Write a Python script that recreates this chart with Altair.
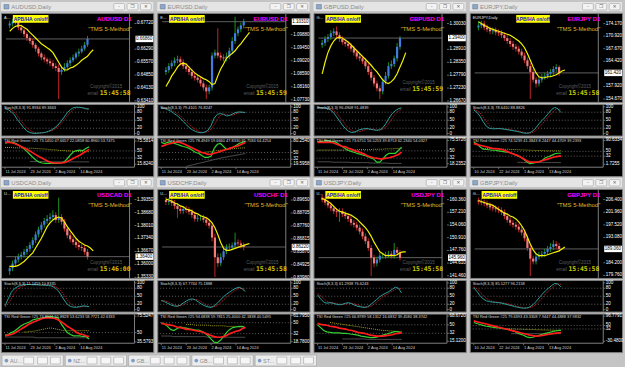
import altair as alt
import pandas as pd

# ---------------- data ----------------
PAIRS = ["AUDUSD", "EURUSD", "GBPUSD", "EURJPY", "USDCAD", "USDCHF", "USDJPY", "GBPJPY"]
CLOCKS = ["15:45:58", "15:45:59", "15:45:59", "15:45:58", "15:46:00", "15:45:58", "15:45:58", "15:45:58"]
DATES_A = ["11 Jul 2024", "23 Jul 2024", "2 Aug 2024", "14 Aug 2024"]
DATES_B = ["10 Jul 2024", "22 Jul 2024", "1 Aug 2024", "13 Aug 2024"]
DATE_IDX = [0, 8, 16, 24]
TAB_LABELS = ["AU...", "NZ...", "GB...", "GB...", "ST..."]

AUDUSD_OPEN0 = 0.6761
AUDUSD_CLOSE = [0.6772,0.6783,0.6794,0.6750,0.6734,0.6713,0.6691,0.6675,0.6653,0.6632,0.6605,0.6583,0.6572,0.6561,0.6551,0.6534,0.6524,0.6502,0.6513,0.6529,0.6551,0.6567,0.6583,0.6605,0.6615,0.6632,0.6653,0.6686]
AUDUSD_HIGH = [0.6788,0.6799,0.6810,0.6804,0.6767,0.6745,0.6723,0.6702,0.6686,0.6664,0.6642,0.6615,0.6599,0.6583,0.6578,0.6567,0.6551,0.6545,0.6534,0.6551,0.6567,0.6583,0.6599,0.6615,0.6632,0.6648,0.6669,0.6702]
AUDUSD_LOW = [0.6745,0.6756,0.6767,0.6734,0.6718,0.6696,0.6675,0.6659,0.6637,0.6615,0.6588,0.6567,0.6556,0.6545,0.6534,0.6518,0.6507,0.6351,0.6486,0.6502,0.6518,0.6534,0.6556,0.6572,0.6588,0.6605,0.6621,0.6642]
AUDUSD_MA = [0.6729,0.6745,0.6756,0.6761,0.6761,0.6750,0.6740,0.6723,0.6707,0.6691,0.6675,0.6659,0.6648,0.6637,0.6626,0.6610,0.6583,0.6556,0.6529,0.6513,0.6513,0.6524,0.6529,0.6540,0.6551,0.6567,0.6578,0.6589,0.6610,0.6626]
AUDUSD_RANGE = [0.6335, 0.6831]
AUDUSD_TICKS = [0.6341,0.6413,0.6485,0.6557,0.6629,0.6772]

EURUSD_OPEN0 = 1.0865
EURUSD_CLOSE = [1.0871,1.0884,1.0894,1.0903,1.0907,1.0897,1.0884,1.0875,1.0865,1.0852,1.0846,1.0839,1.0827,1.0814,1.0801,1.0814,1.0919,1.0929,1.0919,1.0913,1.0910,1.0916,1.0935,1.0967,1.0993,1.1006,1.1019,1.1031]
EURUSD_HIGH = [1.0881,1.0894,1.0903,1.0913,1.0919,1.0916,1.0907,1.0894,1.0884,1.0875,1.0862,1.0855,1.0849,1.0836,1.0823,1.0823,1.0929,1.0939,1.1009,1.0929,1.0923,1.0929,1.0945,1.0980,1.1047,1.1015,1.1028,1.1041]
EURUSD_LOW = [1.0855,1.0862,1.0875,1.0884,1.0894,1.0887,1.0875,1.0865,1.0855,1.0843,1.0836,1.0830,1.0817,1.0804,1.0775,1.0791,1.0804,1.0910,1.0910,1.0903,1.0900,1.0900,1.0907,1.0926,1.0958,1.0983,1.0996,1.1009]
EURUSD_MA = [1.0817,1.0833,1.0852,1.0865,1.0881,1.0891,1.0894,1.0891,1.0881,1.0871,1.0862,1.0855,1.0849,1.0843,1.0839,1.0833,1.0823,1.0827,1.0852,1.0875,1.0891,1.0910,1.0919,1.0926,1.0935,1.0948,1.0958,1.0971,1.0983,1.0996]
EURUSD_RANGE = [1.0766, 1.1060]
EURUSD_TICKS = [1.0773,1.0816,1.0859,1.0902,1.0945,1.0988]

GBPUSD_OPEN0 = 1.2911
GBPUSD_CLOSE = [1.2919,1.2936,1.2944,1.2961,1.2969,1.2953,1.2936,1.2923,1.2915,1.2906,1.2894,1.2877,1.2860,1.2852,1.2839,1.2818,1.2793,1.2768,1.2743,1.2722,1.2709,1.2751,1.2776,1.2818,1.2827,1.2852,1.2902,1.2940]
GBPUSD_HIGH = [1.2932,1.2948,1.2957,1.2974,1.2982,1.2990,1.2965,1.2948,1.2936,1.2927,1.2919,1.2906,1.2890,1.2873,1.2864,1.2852,1.2831,1.2806,1.2780,1.2755,1.2734,1.2764,1.2793,1.2835,1.2843,1.2864,1.2919,1.2948]
GBPUSD_LOW = [1.2898,1.2906,1.2923,1.2932,1.2948,1.2940,1.2923,1.2911,1.2902,1.2894,1.2881,1.2864,1.2848,1.2839,1.2827,1.2806,1.2780,1.2755,1.2730,1.2709,1.2675,1.2696,1.2738,1.2764,1.2806,1.2814,1.2839,1.2890]
GBPUSD_MA = [1.2785,1.2835,1.2877,1.2906,1.2927,1.2940,1.2944,1.2940,1.2932,1.2923,1.2911,1.2898,1.2885,1.2873,1.2860,1.2848,1.2835,1.2822,1.2806,1.2793,1.2776,1.2759,1.2747,1.2743,1.2751,1.2764,1.2785,1.2814,1.2843,1.2877]
GBPUSD_RANGE = [1.2663, 1.3049]
GBPUSD_TICKS = [1.2667,1.2723,1.2779,1.2835,1.2891,1.3003]

EURJPY_OPEN0 = 173.17
EURJPY_CLOSE = [173.67,174.17,173.17,172.67,172.17,172.42,171.92,171.67,171.17,170.42,169.67,168.92,168.17,167.67,166.92,165.92,164.67,163.17,161.67,159.67,158.67,159.67,160.42,160.67,161.17,161.67,162.42,162.92,161.42]
EURJPY_HIGH = [174.67,174.92,174.92,173.92,173.42,173.17,173.17,172.67,172.42,171.92,171.17,170.42,169.67,168.92,168.42,167.67,166.67,165.42,163.92,162.42,160.42,160.42,161.17,161.42,161.92,162.42,163.17,163.67,163.42]
EURJPY_LOW = [172.42,172.92,172.42,171.92,171.42,171.42,171.17,170.92,170.42,169.67,168.92,168.17,167.42,166.92,166.17,165.17,163.92,162.42,154.67,158.92,157.67,157.92,158.92,159.67,159.92,160.42,160.92,161.67,160.67]
EURJPY_MA = [174.67,174.17,173.67,173.42,172.92,172.67,172.42,172.17,171.92,171.67,171.42,171.17,170.67,170.17,169.67,168.92,167.92,166.42,164.67,162.92,161.42,160.42,160.17,160.17,160.42,160.42,160.67,160.92,161.42,161.92,162.17]
EURJPY_RANGE = [153.92, 176.92]
EURJPY_TICKS = [154.67,157.92,164.42,167.67,170.92,174.17]

USDCAD_OPEN0 = 1.3565
USDCAD_CLOSE = [1.3580,1.3605,1.3625,1.3640,1.3650,1.3665,1.3680,1.3700,1.3725,1.3755,1.3780,1.3805,1.3825,1.3835,1.3845,1.3855,1.3830,1.3845,1.3820,1.3785,1.3750,1.3730,1.3715,1.3700,1.3690,1.3685,1.3665,1.3640]
USDCAD_HIGH = [1.3595,1.3620,1.3640,1.3655,1.3665,1.3680,1.3695,1.3715,1.3740,1.3770,1.3795,1.3820,1.3840,1.3855,1.3865,1.3880,1.3870,1.3945,1.3860,1.3835,1.3800,1.3765,1.3745,1.3730,1.3715,1.3705,1.3700,1.3680]
USDCAD_LOW = [1.3545,1.3565,1.3590,1.3610,1.3625,1.3635,1.3650,1.3665,1.3685,1.3710,1.3740,1.3765,1.3790,1.3810,1.3820,1.3830,1.3815,1.3815,1.3805,1.3770,1.3735,1.3715,1.3700,1.3685,1.3675,1.3670,1.3650,1.3625]
USDCAD_MA = [1.3590,1.3590,1.3590,1.3595,1.3605,1.3615,1.3630,1.3645,1.3660,1.3685,1.3710,1.3735,1.3765,1.3795,1.3815,1.3830,1.3840,1.3845,1.3840,1.3820,1.3795,1.3775,1.3755,1.3735,1.3720,1.3710,1.3700,1.3695,1.3685,1.3670]
USDCAD_RANGE = [1.3530, 1.3990]
USDCAD_TICKS = [1.3533,1.3600,1.3667,1.3734,1.3801,1.3868,1.3935]

USDCHF_OPEN0 = 0.8965
USDCHF_CLOSE = [0.8951,0.8958,0.8943,0.8922,0.8900,0.8886,0.8900,0.8893,0.8879,0.8857,0.8828,0.8835,0.8835,0.8821,0.8799,0.8778,0.8691,0.8547,0.8504,0.8547,0.8591,0.8619,0.8619,0.8634,0.8655,0.8648,0.8634,0.8622]
USDCHF_HIGH = [0.8987,0.8979,0.8979,0.8965,0.8943,0.8922,0.8922,0.8922,0.8915,0.8900,0.8879,0.8857,0.8857,0.8857,0.8843,0.8821,0.8799,0.8720,0.8576,0.8576,0.8612,0.8641,0.8648,0.8655,0.8727,0.8677,0.8670,0.8655]
USDCHF_LOW = [0.8929,0.8929,0.8922,0.8900,0.8835,0.8864,0.8864,0.8871,0.8857,0.8835,0.8807,0.8807,0.8814,0.8799,0.8778,0.8756,0.8663,0.8403,0.8475,0.8483,0.8526,0.8569,0.8598,0.8598,0.8612,0.8627,0.8612,0.8598]
USDCHF_MA = [0.8972,0.8965,0.8958,0.8943,0.8936,0.8922,0.8915,0.8900,0.8893,0.8886,0.8871,0.8864,0.8850,0.8843,0.8835,0.8821,0.8799,0.8763,0.8713,0.8655,0.8612,0.8598,0.8598,0.8605,0.8612,0.8619,0.8627,0.8634,0.8641,0.8648]
USDCHF_RANGE = [0.8396, 0.9046]
USDCHF_TICKS = [0.83980,0.84925,0.85870,0.86815,0.87760,0.88705,0.89650]

USDJPY_OPEN0 = 160.84
USDJPY_CLOSE = [160.36,159.64,158.92,158.20,157.48,157.24,157.48,156.76,156.28,155.56,154.60,154.12,153.40,152.44,151.24,150.04,148.36,145.96,144.52,145.48,146.44,146.44,146.68,146.92,146.44,147.88,147.16,145.96]
USDJPY_HIGH = [161.56,161.08,160.36,159.64,158.92,158.20,158.20,158.20,157.48,157.00,156.28,155.32,154.84,154.12,153.16,151.96,150.76,149.08,146.68,146.20,147.16,147.16,147.40,147.64,147.64,149.56,148.60,147.88]
USDJPY_LOW = [159.64,158.92,158.20,157.48,156.76,156.04,154.84,156.04,155.56,154.84,153.88,153.40,152.68,151.72,150.52,149.32,147.64,141.40,143.56,143.80,144.76,145.72,145.72,145.96,145.72,145.72,146.44,145.24]
USDJPY_MA = [160.60,160.36,159.88,159.40,158.68,157.96,157.48,157.24,157.00,156.76,156.52,156.04,155.56,154.84,154.12,153.40,152.44,151.24,149.80,148.60,147.40,146.92,146.44,146.44,146.44,146.44,146.68,147.16,147.40,147.40]
USDJPY_RANGE = [140.92, 163.00]
USDJPY_TICKS = [141.46,144.61,147.76,150.91,154.06,157.21,160.36]

GBPJPY_OPEN0 = 206.06
GBPJPY_CLOSE = [205.72,205.38,205.04,204.36,203.68,203.34,203.00,202.66,201.98,200.62,199.26,198.24,197.56,196.88,195.86,194.84,192.80,189.40,185.66,184.64,186.34,187.02,187.36,188.04,189.06,189.74,190.76,190.08,189.06]
GBPJPY_HIGH = [207.08,206.74,206.40,206.06,205.38,204.70,204.36,204.02,203.68,203.00,201.64,200.28,199.26,198.58,197.90,196.88,195.86,193.82,190.42,186.68,187.36,188.04,188.38,189.06,190.08,191.10,192.12,191.78,191.10]
GBPJPY_LOW = [204.70,204.36,204.02,203.34,202.66,202.32,201.98,201.64,200.96,199.60,198.24,197.22,196.54,195.86,194.84,193.82,191.78,188.38,179.54,183.62,183.62,185.32,186.00,186.34,187.02,188.04,188.72,189.06,188.04]
GBPJPY_MA = [206.06,205.72,205.38,205.04,204.70,204.36,203.68,203.00,202.32,201.64,201.30,200.62,200.28,199.60,198.58,197.22,195.52,193.14,190.76,188.72,187.36,186.68,186.68,186.68,187.02,187.36,187.70,188.04,188.38,189.06,189.74]
GBPJPY_RANGE = [178.86, 210.14]
GBPJPY_TICKS = [179.76,184.20,193.08,197.52,201.96,206.40]

# Stochastic (main, signal)
ST_LABELS = ["Stoch(8,3,3) 91.8934 89.3663", "Stoch(8,3,3) 79.4101 76.8247", "Stoch(8,3,3) 96.4908 91.4839",
             "Stoch(8,3,3) 78.6410 88.8826", "Stoch(8,3,3) 11.1459 10.8335", "Stoch(8,3,3) 67.7744 75.1888",
             "Stoch(8,3,3) 61.2938 76.6243", "Stoch(8,3,3) 85.1277 96.2158"]
AUDUSD_ST = [93,90,82,70,52,37,22,10,4,1,1,2,3,5,9,14,22,32,46,62,78,90,97,99,98,96,93,92]
AUDUSD_SIG = [95,93,89,80,66,50,35,22,12,6,3,2,3,4,7,11,17,26,37,51,66,80,90,96,98,97,95,89]
EURUSD_ST = [96,94,90,84,76,68,58,46,34,22,14,8,4,3,6,12,30,58,72,75,72,66,68,74,79,81,80,79]
EURUSD_SIG = [95,95,93,89,83,76,67,57,46,34,23,15,9,5,4,7,16,33,53,68,73,71,69,69,74,78,80,77]
GBPUSD_ST = [98,97,96,94,90,80,65,48,32,18,8,4,6,12,16,18,19,16,14,12,14,22,38,58,75,86,93,96]
GBPUSD_SIG = [97,97,97,96,94,88,78,64,48,33,20,11,6,6,9,13,16,17,16,14,13,16,25,39,57,73,85,91]
EURJPY_ST = [88,80,65,45,28,20,18,18,19,18,16,14,12,10,8,5,2,1,3,10,22,37,50,62,76,90,98,93,79]
EURJPY_SIG = [90,86,78,63,46,31,22,19,18,18,17,16,14,12,10,8,5,3,2,5,12,23,36,50,63,76,88,94,89]
USDCAD_ST = [14,40,65,78,86,91,93,94,94,93,93,92,92,91,90,88,82,72,55,36,20,12,9,9,11,14,13,11]
USDCAD_SIG = [10,22,40,61,76,85,90,93,94,94,94,93,92,92,91,90,87,81,70,54,37,23,14,10,10,11,12,11]
USDCHF_ST = [35,30,24,18,14,12,16,24,32,38,40,36,28,20,14,10,8,14,24,36,48,58,66,74,80,84,78,68]
USDCHF_SIG = [32,33,30,24,19,15,14,17,24,31,37,38,35,28,21,15,11,11,15,25,36,47,57,66,73,79,80,75]
USDJPY_ST = [55,40,28,24,26,24,20,18,20,24,26,22,16,12,10,8,10,18,28,38,48,56,62,68,76,84,80,62]
USDJPY_SIG = [60,52,41,31,26,25,23,21,19,21,23,24,21,17,13,10,9,12,19,28,38,48,55,62,69,76,80,77]
GBPJPY_ST = [82,68,52,40,33,30,28,27,26,24,21,18,15,12,9,7,5,6,10,18,30,44,58,70,80,90,98,96,85]
GBPJPY_SIG = [85,78,67,53,42,35,31,28,27,26,24,21,18,15,12,9,7,6,7,11,19,31,44,58,70,80,90,96,95]
STOCH_LEVELS = [80, 50, 20]
STOCH_TICKS = [0, 20, 50, 80, 100]

# TSI
TSI_LABELS = ["TSI Red Green #25 73.1450 47.6657 22.0858 60.8960 53.7475",
              "TSI Red Green #25 78.4949 59.6660 47.8330 65.7584 64.4254",
              "TSI Red Green #25 73.6751 56.5253 39.8753 62.2340 54.0327",
              "TSI Red Green #25 74.5239 41.3843 8.2447 44.4709 39.2393",
              "TSI Red Green #25 73.8921 55.8828 53.6233 58.7721 42.6333",
              "TSI Red Green #25 94.6838 59.7815 25.4000 42.1838 40.5495",
              "TSI Red Green #25 66.8789 58.1312 16.6832 39.4580 38.3742",
              "TSI Red Green #25 79.6393 43.3308 7.9447 44.4888 37.9832"]
TSI_LEVELS = [50, 32]
AUDUSD_TSI_G = [70,72,73,71,67,62,56,49,41,33,26,21,19,18,18,18,18,18,19,22,30,40,48,51,52,51,56,61]
AUDUSD_TSI_R = [72,72,71,69,66,62,58,54,50,45,40,35,31,27,23,20,19,19,19,20,23,27,31,35,39,44,49,54]
AUDUSD_TSI_Y = [59,59,59,58,58,58,58,57,57,57,56,56,55,55,54,53,53,52,51,51,50,50,49,49,48,48,48,48]
AUDUSD_TSI_K = [23,23,23,23,23,23,22,22,22,22,22,22,22,22,22,22,22,22,22,22]
AUDUSD_TSI_RANGE = [8.27, 84.5]
AUDUSD_TSI_TICKS = [15.824, 32, 50, 75.5814]
EURUSD_TSI_G = [77,74,77,78,75,72,69,66,64,61,56,50,48,42,37,37,40,61,72,74,66,58,61,64,69,74,77,79]
EURUSD_TSI_R = [66,69,72,74,77,78,77,74,70,66,62,58,54,50,48,45,45,48,50,53,56,58,61,64,66,69,73,77]
EURUSD_TSI_Y = [49,50,51,52,53,54,55,56,57,58,59,60,61,62,62,63]
EURUSD_TSI_K = [13,15,17,19,21,23,25,27,29,31,33,35,37,38,40,41,43,44,46,47]
EURUSD_TSI_RANGE = [10.82, 90.02]
EURUSD_TSI_TICKS = [19.5958, 32, 50, 80.254]
GBPUSD_TSI_G = [72,73,74,76,74,73,71,66,60,55,51,48,46,43,41,39,36,33,30,22,22,30,39,44,44,44,51,59]
GBPUSD_TSI_R = [71,71,71,71,71,70,67,64,61,60,56,54,50,48,45,42,38,35,33,32,30,30,32,33,35,38,41,47]
GBPUSD_TSI_Y = [52,52,52,52,52,52,52,52,52,52,52,52,52,53,53,53,53,53,54,54,54,54,55,55,55,56,56,56]
GBPUSD_TSI_K = [23,23,23,23,23,22,22,22,22,22,22,21,21,21,21,21,21,20,20,20,20,20,20,19,19,19,19,19]
GBPUSD_TSI_RANGE = [9.69, 82.9]
GBPUSD_TSI_TICKS = [18.2352, 32, 50, 75.5726]
EURJPY_TSI_G = [85,78,67,58,57,56,54,54,52,50,48,47,44,39,33,29,20,11,4,6,9,11,17,26,30,35,41,43,43]
EURJPY_TSI_R = [79,76,73,70,67,64,61,60,59,57,53,48,43,39,35,29,22,15,10,10,10,11,15,19,22,26,29,31,33]
EURJPY_TSI_Y = [61,61,60,60,60,59,59,58,58,57,57,56,56,55,55,54,54,53,53,53,52,52,52,52,52,52]
EURJPY_TSI_K = [9,9,8,8,8,8,8,8,8,8,8,8,8,8,8]
EURJPY_TSI_RANGE = [-9.27, 101.7]
EURJPY_TSI_TICKS = [1.7255, 32, 50, 90.6334]
USDCAD_TSI_G = [46,47,50,52,56,60,63,65,67,70,71,72,73,74,75,75,74,73,64,57,50,47,45,45,45,44,44,40]
USDCAD_TSI_R = [45,46,47,49,52,55,58,61,64,66,68,70,72,73,73,73,72,70,67,64,60,57,54,50,48,47,45,44]
USDCAD_TSI_Y = [51,51,52,52,53,54,55,56,57,57,56,55,54,53,53,53,53,53,53,53,53,53]
USDCAD_TSI_K = [43,43,43,43,43,43,43,43,43,43,42,42,42,42,42,42,42,42,42,42,42,42,42,42,42,42,42,41]
USDCAD_TSI_RANGE = [33.48, 79.68]
USDCAD_TSI_TICKS = [35.5793, 50, 75.5247]
USDCHF_TSI_G = [50,48,44,39,37,40,43,42,41,40,39,38,38,36,33,29,23,18,17,21,27,34,39,42,43,44,44,42]
USDCHF_TSI_R = [49,48,47,46,45,43,42,41,39,39,38,37,36,35,33,31,29,27,26,26,27,29,32,34,36,37,40,42]
USDCHF_TSI_Y = [47,47,47,46,46,46,46,46,45,45,45,45,45,44,44,44,44,43,43,43]
USDCHF_TSI_K = [28,28,28,28,27,27,27,27,27,27,27,27,27,27,27,26,26,26,26,26,26,26,26,26,26,26,26,26]
USDCHF_TSI_RANGE = [16.13, 65.2]
USDCHF_TSI_TICKS = [18.78, 32, 50, 61.795]
USDJPY_TSI_G = [50,44,38,35,34,33,33,33,32,32,31,30,29,28,26,25,24,23,23,24,26,28,30,32,34,36,35,33]
USDJPY_TSI_R = [53,51,50,49,47,46,45,43,42,41,39,38,36,34,33,32,30,28,27,26,26,26,27,28,29,31,32,33]
USDJPY_TSI_Y = [55,54,53,52,51,50,49,48,47,46,45,44,43,42,41,40,39,38,38,37,37,36,36,36]
USDJPY_TSI_K = [20,20,20,20,20,20,20,20,19,19,19,19,19,19,19,19,19,19,19,19]
USDJPY_TSI_RANGE = [10.92, 73.92]
USDJPY_TSI_TICKS = [15.12, 32, 50, 68.672]
GBPJPY_TSI_G = [65,60,55,50,46,44,41,39,37,35,32,30,26,20,12,6,0,-8,-12,-10,-5,0,5,10,13,17,21,24,26]
GBPJPY_TSI_R = [73,69,65,61,57,53,49,45,41,37,33,29,25,21,17,13,9,5,1,-2,-4,-3,-1,2,5,7,10,12,13]
GBPJPY_TSI_Y = [34,33,33,32,31,31,30,30,29,29,28,28,27,27,26,26,25,25,24]
GBPJPY_TSI_K = [8,8,8,8,8,8,8,8,8,8,8,8,8,8,8,8,8]
GBPJPY_TSI_RANGE = [-40.5, 110.4]
GBPJPY_TSI_TICKS = [-30.48, 32, 50, 96.7791]

# ---------------- layout / style ----------------
W, PX, XDOM = 154, 135, [-1.3, 41.6]
TB_H, MAIN_H, ST_H, TSI_H, TSI_PLOT = 9, 90, 32, 39, 30
FONT = "Liberation Sans"
BG = "#c4c4c4"
TITLE_FILL = "#e4e4e4"
EDGE = "#808080"
BULL_BODY, BEAR_BODY = "#3f7ee0", "#f27c7c"
BULL_WICK, BEAR_WICK = "#22a022", "#d42a2a"
BOX_X = {"EURJPY": (47, 81)}
ONE = pd.DataFrame({"a": [0]})
XS = alt.Scale(domain=XDOM, range=[0, PX], nice=False, zero=False)
BLACK_VIEW = alt.ViewBackground(fill="#000000", stroke=EDGE, strokeWidth=1)


def txt(s, x, y, **kw):
    return alt.Chart(ONE).mark_text(**kw).encode(x=alt.value(x), y=alt.value(y), text=alt.value(s))


def right_axis(values, labels, ys, h):
    """price-scale strip on the right: separator, ticks and labels placed through the y scale"""
    adf = pd.DataFrame({"v": values, "t": labels})
    sep = alt.Chart(pd.DataFrame({"x": [XDOM[1]]})).mark_rule(color=EDGE, strokeWidth=1).encode(
        x=alt.X("x:Q", scale=XS, axis=None), y=alt.value(0), y2=alt.value(h))
    tk = alt.Chart(adf).mark_rule(color=EDGE, strokeWidth=0.8).encode(
        x=alt.value(PX), x2=alt.value(PX + 2), y=alt.Y("v:Q", scale=ys, axis=None))
    lb = alt.Chart(adf).mark_text(align="left", baseline="middle", fontSize=4.6, color="#ffffff", font=FONT).encode(
        x=alt.value(PX + 2.5), y=alt.Y("v:Q", scale=ys, axis=None), text="t:N")
    return [sep, tk, lb]


def series_df(vals, n):
    s = n - len(vals)
    return pd.DataFrame({"i": list(range(s, s + len(vals))), "v": vals})


def title_bar(name):
    bx = [114, 127.5, 141]
    bdf = pd.DataFrame({"x0": bx, "x1": [b + 11 for b in bx], "xc": [b + 5.5 for b in bx], "g": ["\u2013", "\u2750", "\u2715"]})
    sx = alt.Scale(domain=[0, W], range=[0, W], nice=False, zero=False)
    btn = alt.Chart(bdf).mark_rect(fill="#f3f3f3", stroke="#a0a0a0", strokeWidth=0.6, cornerRadius=1).encode(
        x=alt.X("x0:Q", scale=sx, axis=None), x2="x1:Q", y=alt.value(1.5), y2=alt.value(8))
    gly = alt.Chart(bdf).mark_text(fontSize=4.5, color="#606060", font="DejaVu Sans").encode(
        x=alt.X("xc:Q", scale=sx, axis=None), y=alt.value(5), text="g:N")
    icon = alt.Chart(ONE).mark_rect(fill="#8fa8c8", stroke="#5a7090", strokeWidth=0.5).encode(
        x=alt.value(3), x2=alt.value(8), y=alt.value(2.5), y2=alt.value(7))
    ttl = txt(name + ",Daily", 10.5, 5, align="left", baseline="middle", fontSize=6, color="#8c8c8c", font=FONT)
    return alt.layer(btn, gly, icon, ttl).properties(
        width=W, height=TB_H, view=alt.ViewBackground(fill=TITLE_FILL, strokeWidth=0))


def main_pane(k, name, open0, close, high, low, ma, rng, ticks):
    n = len(close)
    opens = [open0] + close[:-1]
    df = pd.DataFrame({"i": list(range(n)), "o": opens, "c": close, "h": high, "l": low})
    up = [c >= o for o, c in zip(opens, close)]
    df["bc"] = [BULL_BODY if u else BEAR_BODY for u in up]
    df["wc"] = [BULL_WICK if u else BEAR_WICK for u in up]
    jpy = name.endswith("JPY")
    fmt = ".3f" if jpy else ".5f"
    ys = alt.Scale(domain=rng, nice=False, zero=False)
    x = alt.X("i:Q", scale=XS, axis=None)
    axis_layers = right_axis(ticks, [format(t, fmt) for t in ticks], ys, MAIN_H)
    wick = alt.Chart(df).mark_rule(strokeWidth=0.9).encode(
        x=x, y=alt.Y("l:Q", scale=ys, axis=None), y2="h:Q", color=alt.Color("wc:N", scale=None))
    body = alt.Chart(df).mark_bar(size=2.2).encode(
        x=x, y=alt.Y("o:Q", scale=ys, axis=None), y2="c:Q", color=alt.Color("bc:N", scale=None))
    mal = alt.Chart(series_df(ma, len(ma))).mark_line(color="#f2f200", strokeWidth=1.2).encode(
        x=x, y=alt.Y("v:Q", scale=ys, axis=None))
    last = close[-1]
    bid = pd.DataFrame({"x0": [XDOM[0]], "x1": [XDOM[1]], "y": [last], "t": [format(last, fmt)]})
    bidline = alt.Chart(bid).mark_rule(color="#8a8a8a", strokeWidth=0.7).encode(
        x=alt.X("x0:Q", scale=XS, axis=None), x2="x1:Q", y=alt.Y("y:Q", scale=ys, axis=None))
    box = alt.Chart(bid).mark_tick(orient="horizontal", size=W - PX - 1, thickness=6.5, color="#ffffff", opacity=1).encode(
        x=alt.value(PX + (W - PX) / 2 + 0.5), y=alt.Y("y:Q", scale=ys, axis=None))
    boxt = alt.Chart(bid).mark_text(align="left", baseline="middle", fontSize=4.6, color="#000000", font=FONT).encode(
        x=alt.value(PX + 1.5), y=alt.Y("y:Q", scale=ys, axis=None), text="t:N")
    bx0, bx1 = BOX_X.get(name, (12, 48))
    small = txt(name + ",Daily", 3, 5, align="left", baseline="middle", fontSize=4, color="#e0e0e0", font=FONT,
                limit=max(bx0 - 4, 6), ellipsis="")
    ybox = alt.Chart(ONE).mark_rect(color="#ffff00").encode(
        x=alt.value(bx0), x2=alt.value(bx1), y=alt.value(2), y2=alt.value(10))
    yboxt = txt("APB/HA on/off", (bx0 + bx1) / 2, 6.2, align="center", baseline="middle", fontSize=5,
                fontWeight="bold", color="#1010d0", font=FONT)
    d1 = txt(name + " D1", 132, 6.5, align="right", baseline="middle", fontSize=6, fontWeight="bold",
             color="#ff00ff", font=FONT)
    tms = txt('"TMS 5-Method"', 132, 16, align="right", baseline="middle", fontSize=6, color="#e2b52a", font=FONT)
    cy = 77 if name == "GBPUSD" else 81
    cp1 = txt("Copyright\u00a92015", 90, cy - 6, align="left", baseline="middle", fontSize=4.5, color="#5e5e5e", font=FONT)
    cp2 = txt("email", 87.5, cy + 1, align="left", baseline="middle", fontSize=4.5, color="#5e5e5e", font=FONT)
    clock = txt(CLOCKS[k], 131, cy, align="right", baseline="middle", fontSize=6.5, fontWeight="bold",
                color="#cfc400", font="DejaVu Sans Mono")
    return alt.layer(*axis_layers, bidline, wick, body, mal, box, boxt, small, ybox, yboxt, d1, tms, cp1, cp2,
                     clock).properties(width=W, height=MAIN_H, view=BLACK_VIEW)


def stoch_pane(k, main, sig):
    n = len(main)
    ys = alt.Scale(domain=[-7.4, 111.1], nice=False, zero=False)
    lv = pd.DataFrame({"x0": [XDOM[0]] * len(STOCH_LEVELS), "x1": [XDOM[1]] * len(STOCH_LEVELS), "y": STOCH_LEVELS})
    levels = alt.Chart(lv).mark_rule(color="#8a8a8a", strokeDash=[1, 2], strokeWidth=0.7).encode(
        x=alt.X("x0:Q", scale=XS, axis=None), x2="x1:Q", y=alt.Y("y:Q", scale=ys, axis=None))
    axis_layers = right_axis(STOCH_TICKS, [str(t) for t in STOCH_TICKS], ys, ST_H)
    x = alt.X("i:Q", scale=XS, axis=None)
    sl = alt.Chart(series_df(sig, n)).mark_line(color="#c42020", strokeWidth=0.9, strokeDash=[1.5, 1]).encode(
        x=x, y=alt.Y("v:Q", scale=ys, axis=None))
    ml = alt.Chart(series_df(main, n)).mark_line(color="#2a9e9e", strokeWidth=1).encode(
        x=x, y=alt.Y("v:Q", scale=ys, axis=None))
    lab = txt(ST_LABELS[k], 3, 4, align="left", baseline="middle", fontSize=4, color="#dcdcdc", font=FONT)
    return alt.layer(levels, *axis_layers, sl, ml, lab).properties(width=W, height=ST_H, view=BLACK_VIEW)


def tsi_pane(k, g, r, y, kk, rng, ticks, dates):
    n = len(g)
    ys = alt.Scale(domain=rng, range=[TSI_PLOT, 0], nice=False, zero=False)
    lvv = [v for v in TSI_LEVELS if rng[0] < v < rng[1]]
    lv = pd.DataFrame({"x0": [XDOM[0]] * len(lvv), "x1": [XDOM[1]] * len(lvv), "y": lvv})
    levels = alt.Chart(lv).mark_rule(color="#8a8a8a", strokeDash=[1, 2], strokeWidth=0.7).encode(
        x=alt.X("x0:Q", scale=XS, axis=None), x2="x1:Q", y=alt.Y("y:Q", scale=ys, axis=None))
    tlabels = [str(t) if t in TSI_LEVELS else format(t, ".4f") for t in ticks]
    axis_layers = right_axis(ticks, tlabels, ys, TSI_PLOT)
    # time axis (bottom of the indicator pane)
    base = alt.Chart(pd.DataFrame({"x0": [XDOM[0]], "x1": [XDOM[1]]})).mark_rule(color=EDGE, strokeWidth=1).encode(
        x=alt.X("x0:Q", scale=XS, axis=None), x2="x1:Q", y=alt.value(TSI_PLOT))
    ddf = pd.DataFrame({"i": DATE_IDX, "t": dates})
    dtk = alt.Chart(ddf).mark_rule(color=EDGE, strokeWidth=0.8).encode(
        x=alt.X("i:Q", scale=XS, axis=None), y=alt.value(TSI_PLOT), y2=alt.value(TSI_PLOT + 2))
    dlb = alt.Chart(ddf).mark_text(align="left", baseline="middle", fontSize=4, color="#d0d0d0", font=FONT, dx=0.5).encode(
        x=alt.X("i:Q", scale=XS, axis=None), y=alt.value(TSI_PLOT + 4.8), text="t:N")
    x = alt.X("i:Q", scale=XS, axis=None)
    kl = alt.Chart(series_df(kk, n)).mark_line(color="#555555", strokeWidth=0.9).encode(
        x=x, y=alt.Y("v:Q", scale=ys, axis=None))
    yl = alt.Chart(series_df(y, n)).mark_line(color="#b8b820", strokeWidth=0.9, strokeDash=[1, 1]).encode(
        x=x, y=alt.Y("v:Q", scale=ys, axis=None))
    gl = alt.Chart(series_df(g, n)).mark_line(color="#33d033", strokeWidth=1.2).encode(
        x=x, y=alt.Y("v:Q", scale=ys, axis=None))
    rl = alt.Chart(series_df(r, n)).mark_line(color="#ff1c1c", strokeWidth=1.7).encode(
        x=x, y=alt.Y("v:Q", scale=ys, axis=None))
    lab = txt(TSI_LABELS[k], 3, 4, align="left", baseline="middle", fontSize=4, color="#dcdcdc", font=FONT)
    return alt.layer(levels, *axis_layers, base, dtk, dlb, kl, yl, gl, rl, lab).properties(
        width=W, height=TSI_H, view=BLACK_VIEW)


G = globals()


def window(k):
    name = PAIRS[k]
    dates = DATES_B if name in ("EURJPY", "GBPJPY") else DATES_A
    mp = main_pane(k, name, G[name + "_OPEN0"], G[name + "_CLOSE"], G[name + "_HIGH"], G[name + "_LOW"],
                   G[name + "_MA"], G[name + "_RANGE"], G[name + "_TICKS"])
    sp = stoch_pane(k, G[name + "_ST"], G[name + "_SIG"])
    tp = tsi_pane(k, G[name + "_TSI_G"], G[name + "_TSI_R"], G[name + "_TSI_Y"], G[name + "_TSI_K"],
                  G[name + "_TSI_RANGE"], G[name + "_TSI_TICKS"], dates)
    return alt.vconcat(title_bar(name), mp, sp, tp, spacing=2, bounds="flush")


def tabs_chart():
    nt = len(TAB_LABELS)
    x0 = [1 + 64 * j for j in range(nt)]
    tdf = pd.DataFrame({"x0": x0, "x1": [v + 62 for v in x0], "xi": [v + 4.5 for v in x0],
                        "xt": [v + 8 for v in x0], "lab": TAB_LABELS})
    bl = []
    for v in x0:
        for off in (22, 36, 49):
            bl.append({"b0": v + off, "b1": v + off + 10})
    bdf = pd.DataFrame(bl)
    sx = alt.Scale(domain=[0, 625], range=[0, 625], nice=False, zero=False)
    tab = alt.Chart(tdf).mark_rect(fill="#ececec", stroke="#a8a8a8", strokeWidth=0.7).encode(
        x=alt.X("x0:Q", scale=sx, axis=None), x2="x1:Q", y=alt.value(1), y2=alt.value(12))
    icon = alt.Chart(tdf).mark_point(shape="circle", size=14, filled=True, color="#7b9cc8", opacity=1).encode(
        x=alt.X("xi:Q", scale=sx, axis=None), y=alt.value(6.5))
    lab = alt.Chart(tdf).mark_text(align="left", baseline="middle", fontSize=5.5, color="#8c8c8c", font=FONT).encode(
        x=alt.X("xt:Q", scale=sx, axis=None), y=alt.value(6.5), text="lab:N")
    btn = alt.Chart(bdf).mark_rect(fill="#f6f6f6", stroke="#a0a0a0", strokeWidth=0.6).encode(
        x=alt.X("b0:Q", scale=sx, axis=None), x2="b1:Q", y=alt.value(3), y2=alt.value(10))
    return alt.layer(tab, icon, lab, btn).properties(
        width=625, height=12, view=alt.ViewBackground(fill=BG, strokeWidth=0))


row1 = alt.hconcat(*[window(k) for k in range(4)], spacing=2)
row2 = alt.hconcat(*[window(k) for k in range(4, 8)], spacing=2)
chart = alt.vconcat(row1, row2, tabs_chart(), spacing=1).properties(
    padding=0, background=BG
).configure(font=FONT).configure_view(fill="#000000", stroke=EDGE, strokeWidth=1)

chart.save("out.html", embed_options={"renderer": "svg", "actions": False})
